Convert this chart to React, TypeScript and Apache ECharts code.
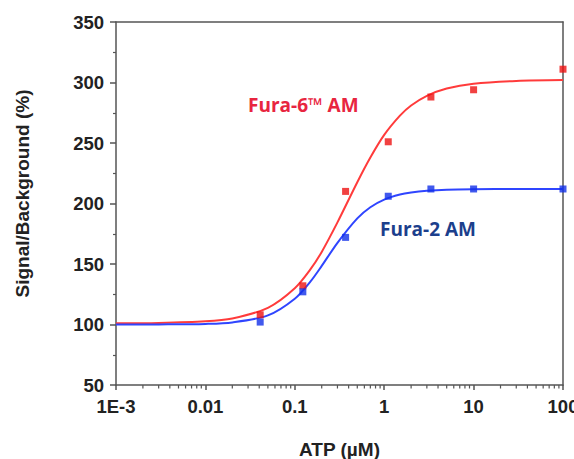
import { useEffect, useRef } from "react";
import * as echarts from "echarts";

// measured points (ATP in µM)
const ATP = [0.041, 0.123, 0.37, 1.11, 3.33, 10, 100];
const FURA6_PTS = [108, 132, 210, 251, 288, 294, 311];
const FURA2_PTS = [102, 127, 172, 206, 212, 212, 212];

// fitted curves
const FIT_X = [0.001, 0.003, 0.01, 0.02, 0.05, 0.1, 0.15, 0.2, 0.3, 0.5, 0.7, 1, 1.5, 2, 3, 5, 10, 30, 100];
const FURA6_FIT = [101, 101.3, 102.6, 105, 113.8, 130, 145.7, 160, 184.4, 217.6, 238, 256.7, 272.6, 281, 289, 295, 299, 301.3, 302];
const FURA2_FIT = [100, 100.1, 100.5, 101.7, 107.5, 121.3, 135.6, 148.4, 167.5, 187.7, 196.9, 203.2, 207.4, 209.1, 210.5, 211.4, 211.8, 212, 212];

const X_MIN = 0.001;
const X_MAX = 100;
const Y_MIN = 50;
const Y_MAX = 350;
const X_LABELS = ["1E-3", "0.01", "0.1", "1", "10", "100"];
const X_MINOR = [
  0.002, 0.003, 0.004, 0.005, 0.006, 0.007, 0.008, 0.009,
  0.02, 0.03, 0.04, 0.05, 0.06, 0.07, 0.08, 0.09,
  0.2, 0.3, 0.4, 0.5, 0.6, 0.7, 0.8, 0.9,
  2, 3, 4, 5, 6, 7, 8, 9,
  20, 30, 40, 50, 60, 70, 80, 90,
];

const FONT = "Liberation Sans";
const AXIS = "#555555";
const TXT = "#222222";

const pairs = (xs: number[], ys: number[]) => xs.map((x, i) => [x, ys[i]]);

// top / right edges of the box
const frame = {
  axisLine: { show: true, lineStyle: { color: AXIS, width: 1.5 } },
  axisTick: { show: false },
  axisLabel: { show: false },
  splitLine: { show: false },
};

export default function App() {
  const ref = useRef<HTMLDivElement>(null);

  useEffect(() => {
    if (!ref.current) return;
    const chart = echarts.init(ref.current, undefined, { renderer: "svg" });
    chart.setOption({
      animation: false,
      backgroundColor: "#fff",
      grid: { left: 116, right: 11, top: 22, bottom: 74, outerBoundsMode: "none" },
      xAxis: [
        {
          type: "log",
          min: X_MIN,
          max: X_MAX,
          name: "ATP (µM)",
          nameLocation: "middle",
          nameGap: 55,
          nameTextStyle: { fontFamily: FONT, fontWeight: "bold", fontSize: 19, color: TXT },
          axisLine: { lineStyle: { color: AXIS, width: 1.5 } },
          axisTick: { length: 5, lineStyle: { color: AXIS, width: 1.5 } },
          axisLabel: {
            margin: 12,
            fontFamily: FONT,
            fontWeight: "bold",
            fontSize: 18.5,
            color: TXT,
            formatter: (_v: number, i: number) => X_LABELS[i] ?? "",
          },
          splitLine: { show: false },
        },
        { type: "log", min: X_MIN, max: X_MAX, position: "top", ...frame },
      ],
      yAxis: [
        {
          type: "value",
          min: Y_MIN,
          max: Y_MAX,
          interval: 50,
          name: "Signal/Background (%)",
          nameLocation: "middle",
          nameGap: 84,
          nameTextStyle: { fontFamily: FONT, fontWeight: "bold", fontSize: 19, color: TXT, padding: [0, 0, 0, 20] },
          axisLine: { show: true, lineStyle: { color: AXIS, width: 1.5 } },
          axisTick: { show: true, length: 6, lineStyle: { color: AXIS, width: 1.5 } },
          minorTick: { show: true, splitNumber: 2, length: 3, lineStyle: { color: AXIS, width: 1.2 } },
          axisLabel: { margin: 12, fontFamily: FONT, fontWeight: "bold", fontSize: 18.5, color: TXT },
          splitLine: { show: false },
        },
        { type: "value", min: Y_MIN, max: Y_MAX, position: "right", ...frame },
      ],
      series: [
        {
          name: "Fura-6 fit",
          type: "line",
          data: pairs(FIT_X, FURA6_FIT),
          smooth: 0.3,
          showSymbol: false,
          lineStyle: { color: "#ff3b3b", width: 2 },
          z: 2,
        },
        {
          name: "Fura-2 fit",
          type: "line",
          data: pairs(FIT_X, FURA2_FIT),
          smooth: 0.3,
          showSymbol: false,
          lineStyle: { color: "#2f45ff", width: 2 },
          z: 2,
        },
        {
          name: "Fura-6",
          type: "scatter",
          data: pairs(ATP, FURA6_PTS),
          symbol: "rect",
          symbolSize: 7,
          itemStyle: { color: "#ee1111" },
          z: 3,
        },
        {
          name: "Fura-2",
          type: "scatter",
          data: pairs(ATP, FURA2_PTS),
          symbol: "rect",
          symbolSize: 7,
          itemStyle: { color: "#1130e8" },
          z: 3,
        },
      ],
    });

    // log minor ticks, placed through the x axis scale
    const bottom = chart.convertToPixel({ yAxisIndex: 0 }, Y_MIN) as number;
    const minor = X_MINOR.map((v) => {
      const px = chart.convertToPixel({ xAxisIndex: 0 }, v) as number;
      return {
        type: "line",
        shape: { x1: px, y1: bottom, x2: px, y2: bottom + 3.5 },
        style: { stroke: AXIS, lineWidth: 1.2 },
      };
    });
    chart.setOption({
      graphic: [
        ...minor,
        {
          type: "text",
          left: 248,
          top: 95,
          style: { text: "Fura-6™ AM", fill: "#e8253f", font: "bold 19px 'Open Sans'" },
        },
        {
          type: "text",
          left: 380,
          top: 219,
          style: { text: "Fura-2 AM", fill: "#1c3f8c", font: "bold 19px 'Open Sans'" },
        },
      ],
    });
    return () => chart.dispose();
  }, []);

  return <div ref={ref} style={{ position: "absolute", left: 0, top: 0, width: 574, height: 459 }} />;
}
